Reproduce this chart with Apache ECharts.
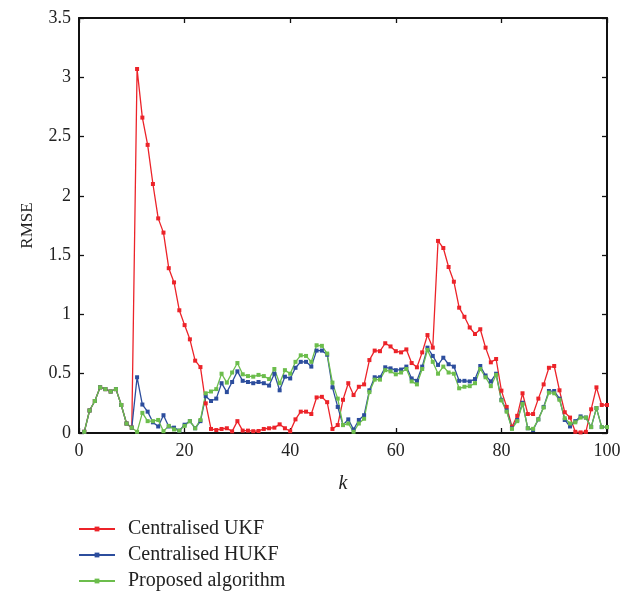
<!DOCTYPE html>
<html>
<head>
<meta charset="utf-8">
<script src="https://cdn.jsdelivr.net/npm/echarts@6/dist/echarts.min.js"></script>
<style>
  html, body { margin: 0; padding: 0; background: #fff; }
  #chart { width: 636px; height: 594px; }
</style>
</head>
<body>
<div id="chart"></div>
<script>
// Time steps k = 1..100
const steps = Array.from({ length: 100 }, (_, i) => i + 1);

const seriesNames = ['Centralised UKF', 'Centralised HUKF', 'Proposed algorithm'];

const ukfRmse = [
  0.01, 0.19, 0.27, 0.385, 0.37, 0.35, 0.37, 0.236, 0.08, 0.045,
  3.07, 2.66, 2.43, 2.10, 1.81, 1.69, 1.39, 1.27, 1.035, 0.91,
  0.79, 0.61, 0.556, 0.25, 0.034, 0.025, 0.034, 0.04, 0.014, 0.10,
  0.02, 0.02, 0.015, 0.017, 0.034, 0.04, 0.045, 0.073, 0.04, 0.015,
  0.115, 0.18, 0.18, 0.16, 0.30, 0.305, 0.26, 0.034, 0.067, 0.28,
  0.42, 0.32, 0.39, 0.41, 0.615, 0.695, 0.69, 0.757, 0.73, 0.69,
  0.68, 0.705, 0.59, 0.554, 0.68, 0.826, 0.72, 1.62, 1.56, 1.40,
  1.276, 1.057, 0.98, 0.89, 0.835, 0.875, 0.72, 0.596, 0.624, 0.357,
  0.22, 0.053, 0.145, 0.335, 0.16, 0.16, 0.29, 0.41, 0.55, 0.565,
  0.36, 0.175, 0.13, 0.01, 0.005, 0.01, 0.20, 0.385, 0.236, 0.236
];

const hukfRmse = [
  0.01, 0.19, 0.27, 0.385, 0.37, 0.35, 0.37, 0.236, 0.08, 0.045,
  0.47, 0.24, 0.18, 0.09, 0.055, 0.15, 0.055, 0.045, 0.02, 0.07,
  0.10, 0.04, 0.10, 0.31, 0.27, 0.29, 0.42, 0.345, 0.43, 0.52,
  0.44, 0.43, 0.42, 0.43, 0.42, 0.40, 0.50, 0.36, 0.475, 0.46,
  0.55, 0.60, 0.60, 0.56, 0.695, 0.695, 0.66, 0.385, 0.22, 0.067,
  0.115, 0.03, 0.11, 0.15, 0.36, 0.47, 0.47, 0.554, 0.545, 0.53,
  0.535, 0.56, 0.46, 0.44, 0.56, 0.72, 0.65, 0.574, 0.635, 0.58,
  0.56, 0.44, 0.44, 0.435, 0.455, 0.565, 0.485, 0.435, 0.50, 0.28,
  0.19, 0.04, 0.11, 0.255, 0.04, 0.025, 0.115, 0.22, 0.354, 0.354,
  0.29, 0.11, 0.055, 0.10, 0.14, 0.13, 0.05, 0.21, 0.05, 0.05
];

const proposedRmse = [
  0.01, 0.19, 0.27, 0.385, 0.37, 0.35, 0.37, 0.236, 0.08, 0.045,
  0.01, 0.17, 0.10, 0.10, 0.11, 0.015, 0.06, 0.03, 0.02, 0.06,
  0.10, 0.04, 0.11, 0.335, 0.35, 0.37, 0.50, 0.425, 0.51, 0.59,
  0.495, 0.48, 0.475, 0.49, 0.48, 0.455, 0.54, 0.42, 0.53, 0.50,
  0.60, 0.655, 0.65, 0.60, 0.74, 0.735, 0.67, 0.425, 0.29, 0.067,
  0.08, 0.01, 0.08, 0.12, 0.345, 0.45, 0.45, 0.53, 0.52, 0.495,
  0.51, 0.54, 0.435, 0.41, 0.54, 0.70, 0.60, 0.50, 0.56, 0.51,
  0.50, 0.377, 0.39, 0.395, 0.42, 0.54, 0.47, 0.395, 0.49, 0.275,
  0.18, 0.035, 0.10, 0.245, 0.04, 0.035, 0.115, 0.215, 0.34, 0.335,
  0.28, 0.125, 0.08, 0.09, 0.13, 0.13, 0.05, 0.21, 0.05, 0.05
];

const colors = ['#ec2329', '#2c4d9d', '#6cbd4c'];
const fontFamily = '"Liberation Serif", "DejaVu Serif", serif';

function pairs(values) {
  return steps.map((k, i) => [k, values[i]]);
}

function lineSeries(name, values, color) {
  return {
    name: name,
    type: 'line',
    xAxisIndex: 0,
    yAxisIndex: 0,
    data: pairs(values),
    symbol: 'rect',
    symbolSize: 4,
    showSymbol: true,
    lineStyle: { color: color, width: 1.3 },
    itemStyle: { color: color },
    emphasis: { disabled: true },
    animation: false
  };
}

const chart = echarts.init(document.getElementById('chart'), null, { renderer: 'canvas' });

const axisLine = { show: true, onZero: false, lineStyle: { color: '#111', width: 2 } };
const axisTick = { show: true, inside: true, length: 5, lineStyle: { color: '#111', width: 1.3 } };

chart.setOption({
  backgroundColor: '#fff',
  animation: false,
  grid: { left: 79, right: 29, top: 18, bottom: 161, containLabel: false },
  legend: {
    orient: 'vertical',
    left: 78,
    top: 519,
    padding: 0,
    itemWidth: 36,
    itemHeight: 6,
    itemGap: 6,
    textStyle: { fontFamily: fontFamily, fontSize: 20, lineHeight: 20, color: '#222', padding: [0, 0, 0, 8] },
    data: seriesNames
  },
  xAxis: [
    {
      type: 'value', min: 0, max: 100, interval: 20, position: 'bottom',
      name: 'k', nameLocation: 'middle', nameGap: 41,
      nameTextStyle: { fontFamily: fontFamily, fontSize: 20, fontStyle: 'italic', color: '#222' },
      axisLine: axisLine, axisTick: axisTick,
      axisLabel: { fontFamily: fontFamily, fontSize: 18, color: '#222', margin: 9 },
      splitLine: { show: false }
    },
    {
      type: 'value', min: 0, max: 100, interval: 20, position: 'top',
      axisLine: axisLine, axisTick: axisTick,
      axisLabel: { show: false }, splitLine: { show: false }
    }
  ],
  yAxis: [
    {
      type: 'value', min: 0, max: 3.5, interval: 0.5, position: 'left',
      name: 'RMSE', nameLocation: 'middle', nameGap: 43, nameRotate: 90,
      nameTextStyle: { fontFamily: fontFamily, fontSize: 17, color: '#222' },
      axisLine: axisLine, axisTick: axisTick,
      axisLabel: { fontFamily: fontFamily, fontSize: 18, color: '#222', margin: 8 },
      splitLine: { show: false }
    },
    {
      type: 'value', min: 0, max: 3.5, interval: 0.5, position: 'right',
      axisLine: axisLine, axisTick: axisTick,
      axisLabel: { show: false }, splitLine: { show: false }
    }
  ],
  series: [
    lineSeries(seriesNames[0], ukfRmse, colors[0]),
    lineSeries(seriesNames[1], hukfRmse, colors[1]),
    lineSeries(seriesNames[2], proposedRmse, colors[2])
  ]
});
</script>
</body>
</html>
